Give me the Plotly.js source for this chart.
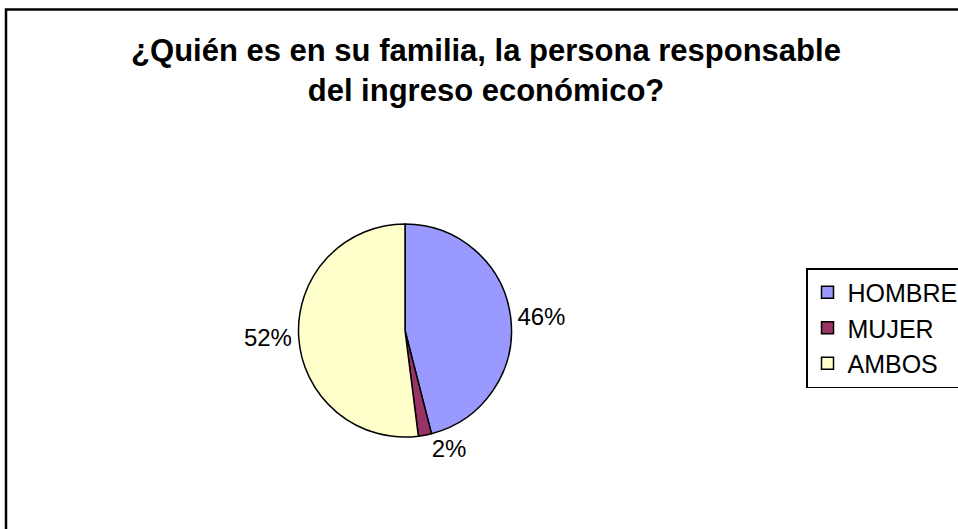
<!DOCTYPE html>
<html>
<head>
<meta charset="utf-8">
<script src="https://cdn.plot.ly/plotly-3.0.1.min.js"></script>
<style>
  html, body { margin: 0; padding: 0; background: #fff; }
  #chart { width: 958px; height: 529px; }
</style>
</head>
<body>
<div id="chart"></div>
<script>
const categories = ["HOMBRE", "MUJER", "AMBOS"];
const values = [46, 2, 52];
const colors = ["#9999FF", "#993366", "#FFFFCC"];
const titleText = "¿Quién es en su familia, la persona responsable<br>del ingreso económico?";

const W = 958, H = 529;
const FONT = "'Liberation Sans', Arial, sans-serif";

const trace = {
  type: "pie",
  labels: categories,
  values: values,
  sort: false,
  direction: "clockwise",
  rotation: 0,
  marker: { colors: colors, line: { color: "#000000", width: 1.5 } },
  textinfo: "percent",
  textposition: "outside",
  outsidetextfont: { family: FONT, size: 24, color: "#000000" },
  texttemplate: "%{percent:.0%}",
  hoverinfo: "label+percent",
  domain: { x: [298 / W, 512 / W], y: [1 - 437 / H, 1 - 224 / H] },
  showlegend: true
};

const layout = {
  width: W,
  height: H,
  margin: { l: 0, r: 0, t: 0, b: 0, autoexpand: false },
  paper_bgcolor: "#ffffff",
  font: { family: FONT, color: "#000000" },
  title: {
    text: titleText,
    font: { family: FONT, size: 31, color: "#000000", weight: "bold" },
    x: 486 / W, xref: "paper", xanchor: "center",
    y: 1 - 61 / H, yref: "container", yanchor: "top"
  },
  legend: {
    x: 806 / W, xanchor: "left",
    y: 1 - 268 / H, yanchor: "top",
    bordercolor: "#000000", borderwidth: 1.5,
    bgcolor: "#ffffff",
    font: { family: FONT, size: 25, color: "#000000" },
    traceorder: "normal"
  },
  shapes: [{
    type: "rect", xref: "paper", yref: "paper",
    x0: 6 / W, x1: 1.05, y0: -0.05, y1: 1 - 9.5 / H,
    line: { color: "#000000", width: 2.5 }
  }]
};

Plotly.newPlot("chart", [trace], layout, { displayModeBar: false, staticPlot: true });
</script>
</body>
</html>
